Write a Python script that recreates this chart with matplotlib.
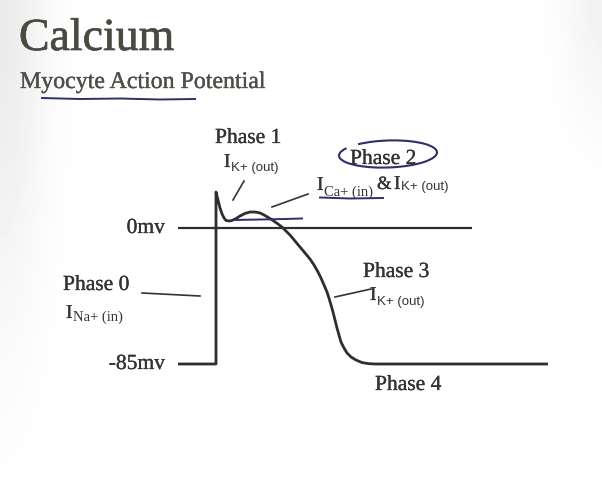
import matplotlib
import numpy as np
from matplotlib import pyplot as plt
from matplotlib import patheffects as pe
from matplotlib.patches import Arc

matplotlib.use('Agg')

# ventricular myocyte action potential, time in ms (upstroke at 0), potential in mV
time_ms = [-76, 0, 0, 4, 8, 12, 16, 20, 26, 32, 40, 48, 58, 68, 78, 88, 98, 106, 114,
           124, 132, 140, 148, 158, 168, 178, 188, 196, 204, 210, 216, 222, 226, 230,
           234, 238, 242, 246, 250, 256, 262, 270, 280, 292, 304, 318, 664]
volt_mv = [-85, -85, 22.5, 17.5, 12.5, 8.8, 6.3, 4.7, 4.4, 4.7, 5.9, 7.5, 9.1, 10, 10,
           9.4, 7.8, 6.3, 4.7, 2.5, 0.6, -1.9, -4.4, -8.1, -11.9, -15.6, -19.4, -23.1,
           -27.5, -31.3, -35.6, -40, -43.8, -48.1, -52.5, -57.5, -62.5, -66.9, -71.3,
           -75, -78.1, -80.6, -82.5, -84.1, -84.75, -85, -85]
zero_ref_ms = [-76, 512]
ref_labels = ['0mv', '-85mv']

W, H = 602, 483
ink = '#333333'
pen = '#2c2f6b'
serif = 'Liberation Serif'
sans = 'Liberation Sans'


def heavy(w, c=ink):
    return [pe.withStroke(linewidth=w, foreground=c)]


fig = plt.figure(figsize=(W / 100, H / 100), dpi=100)
fig.patch.set_facecolor('white')

# faint slide vignette
bg = fig.add_axes([0, 0, 1, 1])
gx, gy = np.meshgrid(np.arange(W), np.arange(H))
shade = 0.08 * np.exp(-(gx / 45.0) ** 2 - (gy / 300.0) ** 2) \
    + 0.05 * np.exp(-((W - gx) / 40.0) ** 2 - (gy / 120.0) ** 2)
bg.imshow(1 - shade, cmap='gray', vmin=0, vmax=1, extent=(0, W, H, 0), aspect='auto')
bg.axis('off')

# data axes: 2 ms per pixel, 1.6 px per mV, upstroke at pixel 216, 0 mV at pixel 228
ax = fig.add_axes([0, 0, 1, 1])
ax.set_xlim(-216 * 2, (W - 216) * 2)
ax.set_ylim(-(H - 228) / 1.6, 228 / 1.6)
ax.axis('off')
ax.patch.set_alpha(0)
ax.plot(time_ms, volt_mv, color='#2e2e2e', lw=2.0, solid_joinstyle='round', solid_capstyle='butt')
ax.hlines(0, zero_ref_ms[0], zero_ref_ms[1], color='#2e2e2e', lw=1.6)

# overlay in pixel coordinates for the slide text and pen marks
ov = fig.add_axes([0, 0, 1, 1])
ov.set_xlim(0, W)
ov.set_ylim(H, 0)
ov.axis('off')
ov.patch.set_alpha(0)

ov.text(19, 50, 'Calcium', fontsize=33, family=serif, color='#4a4a42', va='baseline',
        path_effects=heavy(0.5, '#4a4a42'))
ov.text(20, 88, 'Myocyte Action Potential', fontsize=17.2, family=serif, color='#4f4f48',
        va='baseline', path_effects=heavy(0.25, '#4f4f48'))
ov.plot([42, 80, 120, 160, 195], [98, 99, 98.5, 99.5, 99], color=pen, lw=1.4)

for lab, yb in zip(ref_labels, [233, 369]):
    ov.text(165, yb, lab, fontsize=15.5, family=serif, color=ink, va='baseline', ha='right',
            path_effects=heavy(0.2))


def phase(x, y, s):
    ov.text(x, y, s, fontsize=15.5, family=serif, color=ink, va='baseline',
            path_effects=heavy(0.2))


def current(x, y, sub, dx=7, dy=4, fam=sans, size=9.5):
    ov.text(x, y, 'I', fontsize=14, family=serif, color=ink, va='baseline',
            path_effects=heavy(0.2))
    ov.text(x + dx, y + dy, sub, fontsize=size, family=fam, color=ink, va='baseline')


phase(215, 143, 'Phase 1')
current(224, 167, 'K+ (out)')
ov.plot([244, 233], [181, 200], color=ink, lw=1.2)

phase(350, 164, 'Phase 2')
current(317, 190, 'Ca+ (in)', dy=6, fam=serif, size=10.5)
ov.text(377, 189, '&', fontsize=13.5, family=serif, color=ink, va='baseline',
        path_effects=heavy(0.2))
current(394, 189, 'K+ (out)', dy=1)
ov.plot([308, 272], [194, 207], color=ink, lw=1.2)
ov.plot([320, 350, 383], [197.5, 198.5, 198], color=pen, lw=1.4)
ov.plot([234, 260, 285, 302], [220, 219.5, 219, 218.5], color=pen, lw=1.4)
ov.add_patch(Arc((388, 154), 98, 27, angle=-2, theta1=200, theta2=190, color=pen, lw=1.5))

phase(63, 290, 'Phase 0')
current(66, 318, 'Na+ (in)', dy=3, fam=serif, size=10.5)
ov.plot([142, 200], [293, 296], color=ink, lw=1.2)

phase(363, 277, 'Phase 3')
current(370, 300, 'K+ (out)', dy=5)
ov.plot([335, 371], [297, 289], color=ink, lw=1.2)

phase(375, 390, 'Phase 4')

plt.savefig('out.png', dpi=100, facecolor='white')
plt.close()
